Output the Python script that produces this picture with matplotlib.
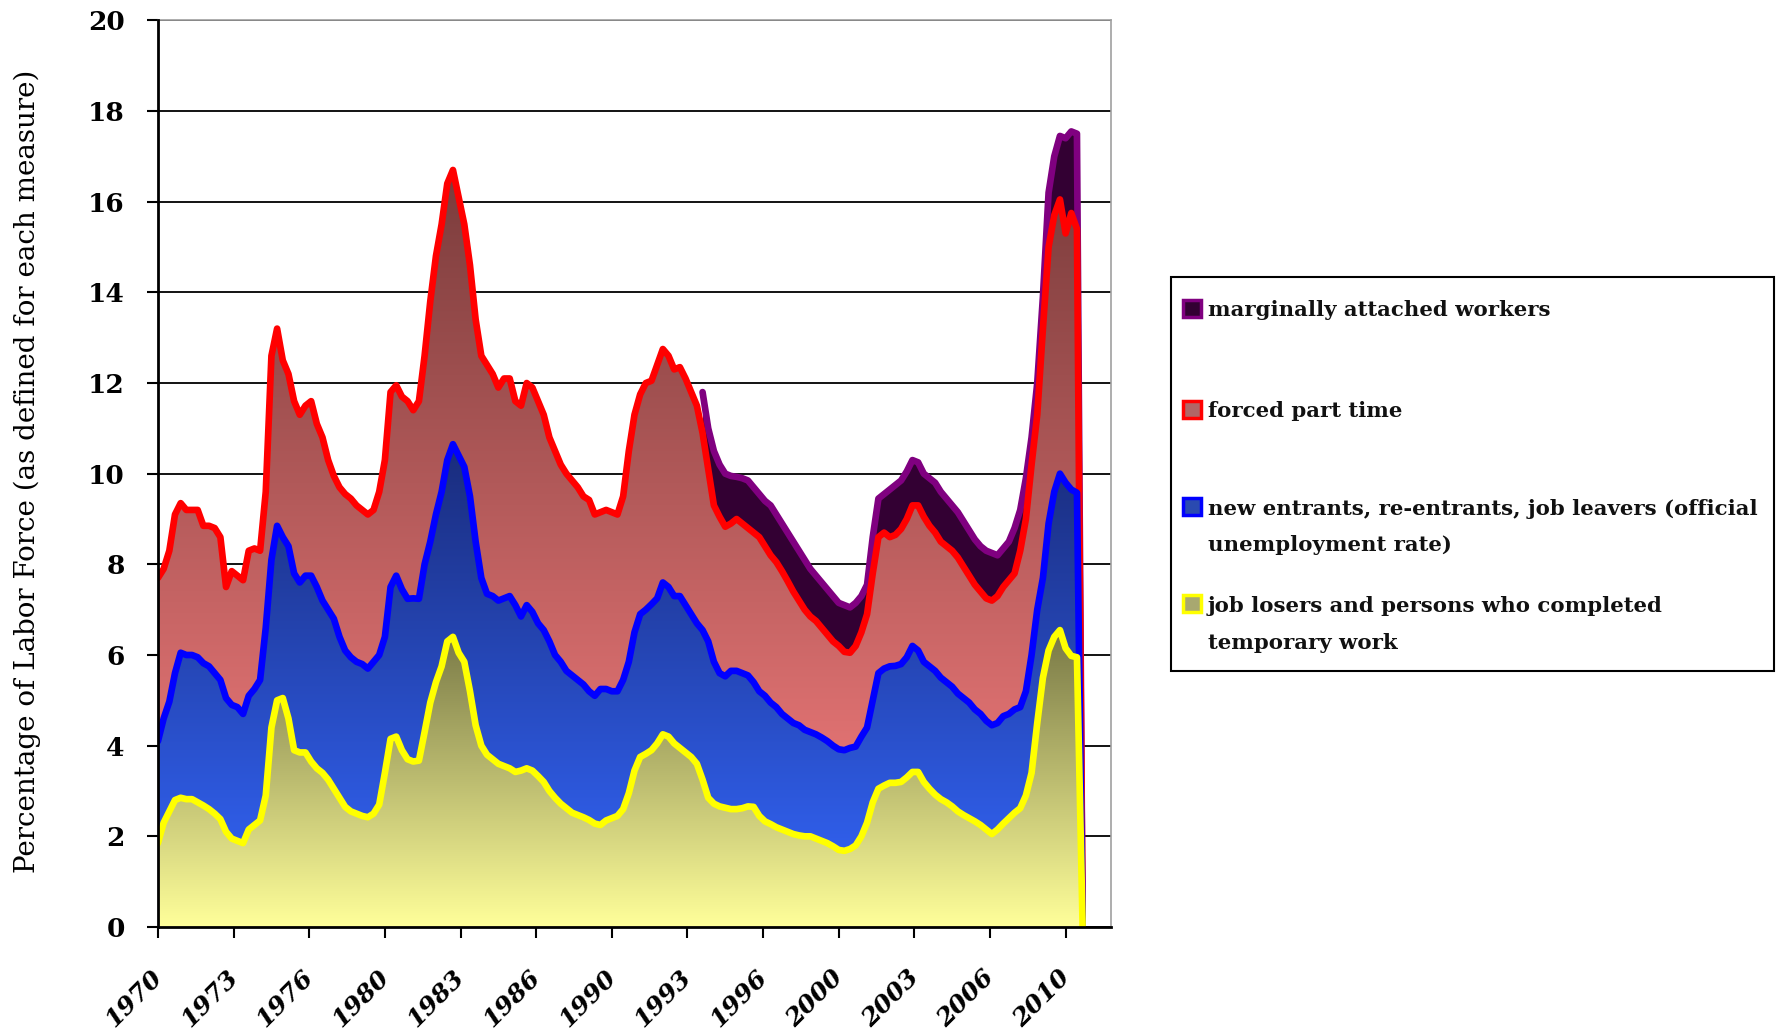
import numpy as np
import matplotlib
matplotlib.use("Agg")
import matplotlib.pyplot as plt
import matplotlib.transforms as mtransforms
from matplotlib.colors import LinearSegmentedColormap
from matplotlib.patches import Rectangle

# quarterly readings (Jan, Apr, Jul, Oct), 1970 .. Jul 2010, one row per year
# the last 0 is the empty month after the data, which the sheet plots as 0
job_losers = [
    1.85, 2.3, 2.55, 2.8,   2.85, 2.82, 2.82, 2.75,   2.68, 2.6, 2.5, 2.38,
    2.1, 1.95, 1.9, 1.85,   2.15, 2.25, 2.35, 2.9,    4.4, 5.0, 5.05, 4.6,
    3.9, 3.85, 3.85, 3.65,  3.5, 3.4, 3.25, 3.05,     2.85, 2.65, 2.55, 2.5,
    2.45, 2.42, 2.5, 2.7,   3.4, 4.15, 4.2, 3.9,      3.7, 3.65, 3.67, 4.3,
    4.95, 5.4, 5.75, 6.3,   6.4, 6.05, 5.85, 5.2,     4.45, 4.0, 3.8, 3.7,
    3.6, 3.55, 3.5, 3.42,   3.45, 3.5, 3.45, 3.33,    3.2, 3.0, 2.85, 2.72,
    2.62, 2.52, 2.47, 2.42, 2.36, 2.28, 2.25, 2.35,   2.4, 2.45, 2.6, 2.95,
    3.45, 3.75, 3.82, 3.9,  4.05, 4.25, 4.2, 4.05,    3.95, 3.85, 3.75, 3.6,
    3.25, 2.85, 2.72, 2.66, 2.63, 2.6, 2.6, 2.62,     2.66, 2.65, 2.45, 2.33,
    2.27, 2.2, 2.15, 2.1,   2.05, 2.02, 2.0, 2.0,     1.95, 1.9, 1.85, 1.78,
    1.7, 1.68, 1.72, 1.8,   2.0, 2.3, 2.75, 3.05,     3.12, 3.18, 3.18, 3.2,
    3.3, 3.42, 3.42, 3.2,   3.05, 2.92, 2.82, 2.75,   2.66, 2.55, 2.47, 2.4,
    2.33, 2.25, 2.15, 2.05, 2.15, 2.28, 2.4, 2.52,    2.62, 2.9, 3.4, 4.5,
    5.5, 6.1, 6.4, 6.55,    6.15, 5.98, 5.95, 0.0,
]
official_rate = [
    4.1, 4.6, 4.97, 5.6,    6.05, 6.0, 6.0, 5.95,     5.82, 5.75, 5.6, 5.45,
    5.05, 4.9, 4.85, 4.7,   5.1, 5.25, 5.45, 6.6,     8.1, 8.85, 8.6, 8.4,
    7.8, 7.6, 7.75, 7.75,   7.5, 7.2, 7.0, 6.8,       6.4, 6.1, 5.95, 5.85,
    5.8, 5.7, 5.85, 6.0,    6.4, 7.5, 7.75, 7.45,     7.24, 7.25, 7.24, 8.0,
    8.5, 9.1, 9.6, 10.3,    10.65, 10.4, 10.15, 9.5,  8.5, 7.7, 7.35, 7.3,
    7.2, 7.25, 7.3, 7.1,    6.85, 7.1, 6.95, 6.7,     6.55, 6.3, 6.0, 5.85,
    5.65, 5.55, 5.45, 5.35, 5.2, 5.1, 5.25, 5.25,     5.2, 5.2, 5.45, 5.85,
    6.5, 6.9, 7.0, 7.12,    7.25, 7.6, 7.5, 7.3,      7.3, 7.1, 6.9, 6.7,
    6.55, 6.3, 5.85, 5.6,   5.53, 5.65, 5.65, 5.6,    5.55, 5.4, 5.2, 5.1,
    4.95, 4.85, 4.7, 4.6,   4.5, 4.45, 4.35, 4.3,     4.25, 4.18, 4.1, 4.0,
    3.92, 3.9, 3.95, 3.98,  4.2, 4.4, 5.0, 5.6,       5.7, 5.75, 5.76, 5.8,
    5.95, 6.2, 6.1, 5.85,   5.75, 5.65, 5.5, 5.4,     5.3, 5.15, 5.05, 4.95,
    4.8, 4.7, 4.55, 4.45,   4.5, 4.65, 4.7, 4.8,      4.85, 5.2, 6.0, 7.0,
    7.7, 8.9, 9.6, 10.0,    9.8, 9.65, 9.58, 0.0,
]
forced_part_time = [
    7.7, 7.9, 8.3, 9.1,     9.35, 9.2, 9.2, 9.2,      8.85, 8.85, 8.8, 8.6,
    7.5, 7.85, 7.75, 7.65,  8.3, 8.35, 8.3, 9.6,      12.6, 13.2, 12.5, 12.2,
    11.6, 11.3, 11.5, 11.6, 11.1, 10.8, 10.3, 9.95,   9.7, 9.55, 9.45, 9.3,
    9.2, 9.1, 9.2, 9.6,     10.3, 11.8, 11.95, 11.7,  11.6, 11.4, 11.6, 12.6,
    13.8, 14.8, 15.5, 16.4, 16.7, 16.1, 15.5, 14.6,   13.4, 12.6, 12.4, 12.2,
    11.9, 12.1, 12.1, 11.6, 11.5, 12.0, 11.9, 11.6,   11.3, 10.8, 10.5, 10.2,
    10.0, 9.85, 9.7, 9.5,   9.42, 9.1, 9.15, 9.2,     9.15, 9.1, 9.5, 10.5,
    11.3, 11.75, 12.0, 12.05, 12.4, 12.75, 12.6, 12.3, 12.35, 12.1, 11.8, 11.5,
    10.9, 10.1, 9.3, 9.05,  8.83, 8.9, 9.0, 8.9,      8.8, 8.7, 8.6, 8.4,
    8.2, 8.05, 7.85, 7.63,  7.4, 7.2, 7.0, 6.85,      6.75, 6.6, 6.45, 6.3,
    6.2, 6.07, 6.05, 6.2,   6.5, 6.9, 7.8, 8.6,       8.7, 8.6, 8.65, 8.78,
    9.0, 9.3, 9.3, 9.05,    8.85, 8.7, 8.5, 8.4,      8.3, 8.15, 7.95, 7.75,
    7.55, 7.4, 7.25, 7.2,   7.3, 7.5, 7.65, 7.8,      8.3, 9.0, 10.2, 11.3,
    13.2, 15.0, 15.7, 16.05, 15.3, 15.75, 15.4, 0.0,
]
# series only exists from Jan 1994
marginally_attached = [
    11.8, 11.0, 10.5, 10.2, 10.0, 9.95, 9.93, 9.9,    9.85, 9.7, 9.55, 9.4,
    9.3, 9.1, 8.9, 8.7,     8.5, 8.3, 8.1, 7.9,       7.75, 7.6, 7.45, 7.3,
    7.15, 7.1, 7.05, 7.15,  7.3, 7.55, 8.6, 9.45,     9.55, 9.65, 9.75, 9.85,
    10.05, 10.3, 10.25, 10.0, 9.9, 9.8, 9.6, 9.45,    9.3, 9.15, 8.95, 8.75,
    8.55, 8.4, 8.3, 8.25,   8.2, 8.35, 8.5, 8.8,      9.2, 9.9, 10.8, 12.0,
    13.9, 16.2, 17.0, 17.45, 17.4, 17.55, 17.5, 0.0,
]
marginal_first_quarter = 96  # Jan 1994

tick_months = list(range(0, 481, 40))
tick_labels = ["1970", "1973", "1976", "1980", "1983", "1986", "1990",
               "1993", "1996", "2000", "2003", "2006", "2010"]

legend_labels = [
    ["marginally attached workers"],
    ["forced part time"],
    ["new entrants, re-entrants, job leavers (official", "unemployment rate)"],
    ["job losers and persons who completed", "temporary work"],
]

months = np.arange(len(official_rate)) * 3
months_marg = (np.arange(len(marginally_attached)) + marginal_first_quarter) * 3

fig = plt.figure(figsize=(17.81, 10.34), dpi=100)
ax = fig.add_axes([0.0887, 0.1035, 0.5351, 0.8768])


def gradient_area(xs, ys, top_color, bottom_color, z):
    ys = np.asarray(ys)
    poly = ax.fill_between(xs, 0, ys, facecolor="none", edgecolor="none", zorder=z)
    cmap = LinearSegmentedColormap.from_list("grad", [bottom_color, top_color])
    grad = np.linspace(0, 1, 256).reshape(-1, 1)
    im = ax.imshow(grad, cmap=cmap, aspect="auto", origin="lower",
                   extent=[xs[0], xs[-1], 0, ys.max()], zorder=z,
                   interpolation="bilinear")
    im.set_clip_path(poly.get_paths()[0], transform=ax.transData)


lw = 4.8
line_kw = dict(lw=lw, solid_joinstyle="round", solid_capstyle="round")

# marginally attached (back)
ax.fill_between(months_marg, 0, marginally_attached, color="#330033", lw=0, zorder=2)
ax.plot(months_marg, marginally_attached, color="#800080", zorder=3, **line_kw)

gradient_area(months, forced_part_time, "#7a3c3c", "#ff8282", 4)
ax.plot(months, forced_part_time, color="#ff0000", zorder=5, **line_kw)

gradient_area(months, official_rate, "#1a2c7c", "#3468ff", 6)
ax.plot(months, official_rate, color="#0000ff", zorder=7, **line_kw)

gradient_area(months, job_losers, "#787846", "#ffff9a", 8)
ax.plot(months, job_losers, color="#ffff00", zorder=9, **line_kw)

ax.set_xlim(0, 504)
ax.set_ylim(0, 20)
ax.set_yticks(range(0, 21, 2))
ax.yaxis.grid(True, color="black", lw=1.3)
ax.set_axisbelow(True)

for side in ["left", "bottom"]:
    ax.spines[side].set_color("black")
    ax.spines[side].set_linewidth(2)
    ax.spines[side].set_zorder(20)
for side in ["top", "right"]:
    ax.spines[side].set_color("#a0a0a0")
    ax.spines[side].set_linewidth(1.2)

ax.tick_params(axis="y", direction="out", length=8, width=1.5, pad=16)
for lab in ax.get_yticklabels():
    lab.set_fontfamily("DejaVu Serif")
    lab.set_fontweight("bold")
    lab.set_fontsize(19)

ax.set_xticks(tick_months)
ax.set_xticklabels(tick_labels, rotation=45, ha="right",
                   fontfamily="DejaVu Serif", fontweight="bold",
                   fontstyle="italic", fontsize=18)
ax.tick_params(axis="x", direction="out", length=8, width=1.5, pad=20)
shift = mtransforms.ScaledTranslation(0.09, 0, fig.dpi_scale_trans)
for lab in ax.get_xticklabels():
    lab.set_transform(lab.get_transform() + shift)

fig.text(0.0152, 0.5445, "Percentage of Labor Force (as defined for each measure)",
         rotation=90, ha="center", va="center", fontfamily="DejaVu Serif", fontsize=20)

# legend box
fig.add_artist(Rectangle((0.6575, 0.3511), 0.3386, 0.381, transform=fig.transFigure,
                         fill=False, edgecolor="black", lw=1.5))
marker_edges = ["#800080", "#ff0000", "#0000ff", "#ffff00"]
marker_faces = ["#330033", "#b06666", "#2a4ab0", "#a8a870"]
first_line_y = [0.7021, 0.6044, 0.5101, 0.4159]
line_step = 36.6 / 1034
for labels, edge, face, y0 in zip(legend_labels, marker_edges, marker_faces, first_line_y):
    fig.add_artist(Rectangle((0.6693 - 0.0048, y0 - 0.0082), 0.0096, 0.0164,
                             transform=fig.transFigure, facecolor=face,
                             edgecolor=edge, lw=2.5))
    for i, text in enumerate(labels):
        fig.text(0.6783, y0 - i * line_step, text, ha="left", va="center_baseline",
                 fontfamily="DejaVu Serif", fontweight="bold", fontsize=15.3,
                 color="#111111")

fig.savefig("out.png", dpi=100)
